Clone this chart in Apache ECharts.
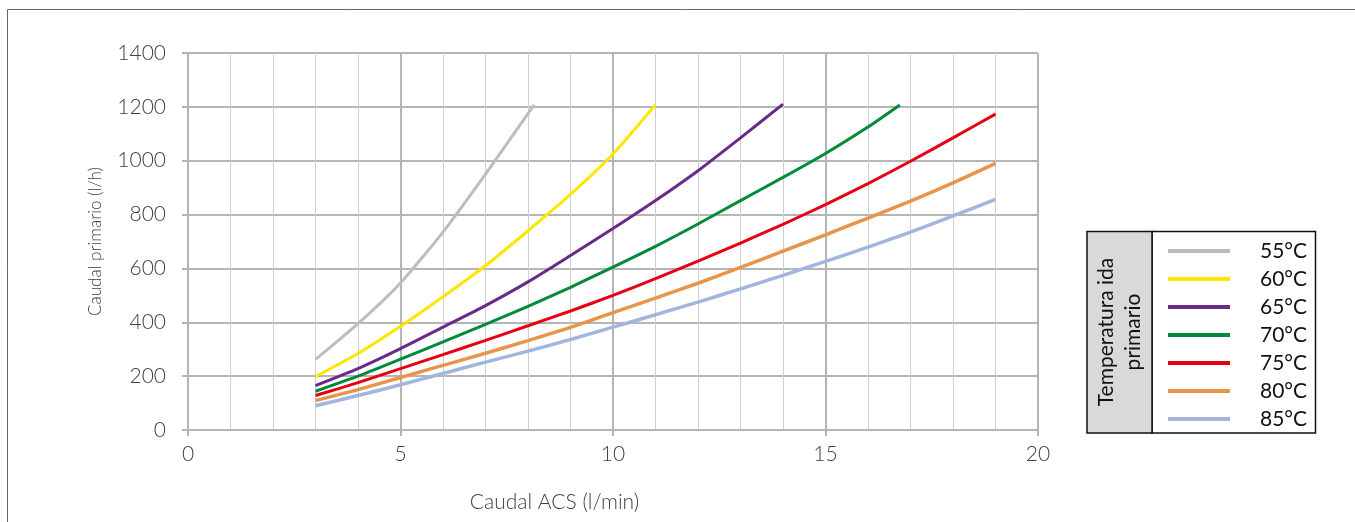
<!DOCTYPE html>
<html>
<head>
<meta charset="utf-8">
<script src="https://cdn.jsdelivr.net/npm/echarts@6/dist/echarts.min.js"></script>
<style>
  html, body { margin: 0; padding: 0; background: #fff; }
  #chart { width: 1355px; height: 522px; }
</style>
</head>
<body>
<div id="chart"></div>
<script>
// Caudal primario vs caudal ACS, por temperatura de ida del primario
const TEMPS = ['55°C', '60°C', '65°C', '70°C', '75°C', '80°C', '85°C'];
const COLORS = ['#bdbdbd', '#ffe600', '#6a2a8a', '#008a3a', '#e60012', '#e8954a', '#a0b6dc'];

// [caudal ACS l/min, caudal primario l/h]
const t55 = [[3, 262], [4, 395], [5, 546], [6, 735], [7, 950], [8, 1175], [8.15, 1207]];
const t60 = [[3, 198], [4, 284], [5, 385], [6, 495], [7, 610], [8, 740], [9, 875], [10, 1025], [11, 1208]];
const t65 = [[3, 165], [4, 228], [5, 302], [6, 382], [7, 462], [8, 550], [9, 648], [10, 748], [11, 852], [12, 963], [13, 1085], [14, 1210]];
const t70 = [[3, 144], [4, 200], [5, 263], [6, 327], [7, 392], [8, 459], [9, 530], [10, 605], [11, 682], [12, 765], [13, 852], [14, 938], [15, 1027], [16, 1125], [16.75, 1207]];
const t75 = [[3, 128], [4, 176], [5, 228], [6, 280], [7, 333], [8, 387], [9, 442], [10, 500], [11, 562], [12, 627], [13, 694], [14, 764], [15, 837], [16, 915], [17, 998], [18, 1085], [19, 1173]];
const t80 = [[3, 109], [4, 150], [5, 195], [6, 240], [7, 285], [8, 332], [9, 381], [10, 436], [11, 490], [12, 545], [13, 604], [14, 664], [15, 725], [16, 787], [17, 850], [18, 918], [19, 990]];
const t85 = [[3, 90], [4, 128], [5, 168], [6, 210], [7, 252], [8, 293], [9, 336], [10, 382], [11, 428], [12, 475], [13, 524], [14, 574], [15, 626], [16, 679], [17, 735], [18, 795], [19, 856]];
const SERIES = [t55, t60, t65, t70, t75, t80, t85];

const AXIS_FONT = 'Lato, "Open Sans", sans-serif';
const GRID_C = '#b5b5b5';

const chart = echarts.init(document.getElementById('chart'), null, { renderer: 'canvas' });

chart.setOption({
  animation: false,
  grid: { left: 188, right: 317, top: 53, bottom: 92 },
  xAxis: {
    type: 'value', min: 0, max: 20, interval: 5,
    name: 'Caudal ACS (l/min)', nameLocation: 'middle', nameGap: 62,
    nameTextStyle: { color: '#404040', fontSize: 21, fontFamily: AXIS_FONT, fontWeight: 300, padding: [0, 117, 0, 0] },
    axisLine: { show: true, lineStyle: { color: GRID_C, width: 2 } },
    axisTick: { show: true, length: 6, lineStyle: { color: GRID_C, width: 2 } },
    axisLabel: { color: '#404040', fontSize: 21, fontFamily: AXIS_FONT, fontWeight: 300, margin: 14 },
    splitLine: { show: true, lineStyle: { color: GRID_C, width: 2 } },
    minorTick: { show: false, splitNumber: 5 },
    minorSplitLine: { show: true, lineStyle: { color: '#cfcfcf', width: 1 } },
  },
  yAxis: {
    type: 'value', min: 0, max: 1400, interval: 200,
    name: 'Caudal primario (l/h)', nameLocation: 'middle', nameGap: 84,
    nameTextStyle: { color: '#404040', fontSize: 17, fontFamily: AXIS_FONT, fontWeight: 300 },
    axisLine: { show: true, lineStyle: { color: GRID_C, width: 2 } },
    axisTick: { show: true, length: 6, lineStyle: { color: GRID_C, width: 2 } },
    axisLabel: { color: '#404040', fontSize: 21, fontFamily: AXIS_FONT, fontWeight: 300, margin: 22,
      formatter: v => String(v) },
    splitLine: { show: true, lineStyle: { color: GRID_C, width: 2 } },
  },
  legend: {
    orient: 'vertical', left: 1163, top: 234,
    icon: 'rect', itemWidth: 62, itemHeight: 4, itemGap: 4,
    selectedMode: false,
    textStyle: { color: '#111', fontSize: 21, fontFamily: 'Lato, sans-serif', lineHeight: 24, padding: [0, 0, 0, 25] },
    data: TEMPS,
  },
  graphic: [
    { type: 'rect', shape: { x: 7.5, y: 9.5, width: 1400, height: 600 },
      style: { fill: 'none', stroke: '#666', lineWidth: 1 }, silent: true, z: -10 },
    { type: 'rect', shape: { x: 1087, y: 231.5, width: 65, height: 201.5 },
      style: { fill: '#d9d9d9', stroke: '#111', lineWidth: 1.5 }, silent: true },
    { type: 'rect', shape: { x: 1152, y: 231.5, width: 163.5, height: 201.5 },
      style: { fill: '#fff', stroke: '#111', lineWidth: 1.5 }, silent: true, z: -1 },
    { type: 'text', x: 1119.5, y: 332, rotation: Math.PI / 2,
      style: { text: 'Temperatura ida\nprimario', fill: '#111', fontSize: 21, lineHeight: 27,
        fontFamily: 'Lato, sans-serif', align: 'center', verticalAlign: 'middle' }, silent: true },
  ],
  series: SERIES.map((d, i) => ({
    name: TEMPS[i], type: 'line', data: d,
    smooth: 0.2, symbol: 'none',
    lineStyle: { color: COLORS[i], width: i >= 5 ? 3.5 : 3 },
    itemStyle: { color: COLORS[i] },
    z: 3 + i,
  })),
});
</script>
</body>
</html>
